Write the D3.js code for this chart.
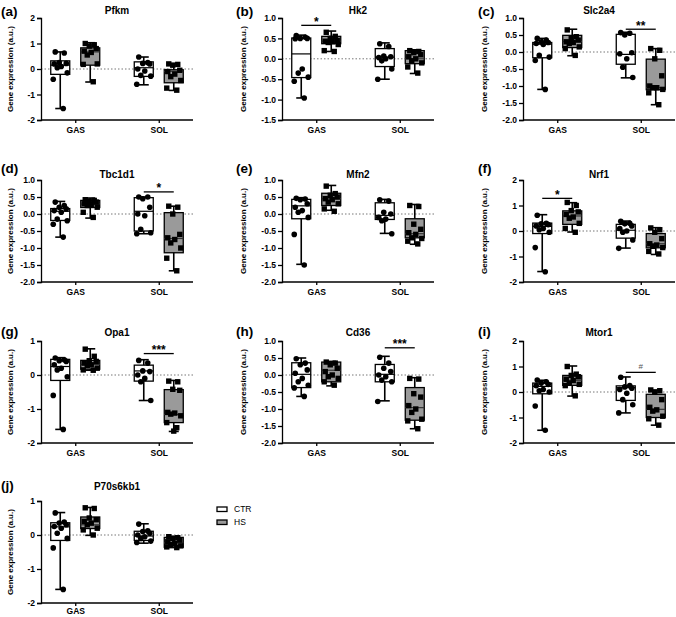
<!DOCTYPE html>
<html>
<head>
<meta charset="utf-8">
<script src="https://cdn.jsdelivr.net/npm/d3@7"></script>
<style>
  body { margin: 0; background: #fff; }
  svg { display: block; font-family: "Liberation Sans", Arial, sans-serif; }
</style>
</head>
<body>
<div id="chart"></div>
<script>
// ---- data ----
const genes = ["Pfkm", "Hk2", "Slc2a4", "Tbc1d1", "Mfn2", "Nrf1", "Opa1", "Cd36", "Mtor1", "P70s6kb1"];
const letters = ["(a)", "(b)", "(c)", "(d)", "(e)", "(f)", "(g)", "(h)", "(i)", "(j)"];
const muscles = ["GAS", "SOL"];
const groups = ["CTR", "HS"];
const yDomains = [[-2, 2], [-1.5, 1], [-2, 1], [-2, 1], [-2, 1], [-2, 2], [-2, 1], [-2, 1], [-2, 2], [-2, 1]];
const yStep = [1, 0.5, 0.5, 0.5, 0.5, 1, 1, 0.5, 1, 1];

// individual values: [GAS CTR, GAS HS, SOL CTR, SOL HS]
const pfkmPts = [
  [0.67, 0.63, 0.25, 0.22, 0.2, 0.1, 0.05, -0.15, -0.4, -1.55],
  [1.0, 0.95, 0.9, 0.8, 0.7, 0.65, 0.55, 0.2, 0.18, -0.5],
  [0.47, 0.25, 0.22, 0.2, 0.0, -0.08, -0.25, -0.28, -0.6],
  [0.2, 0.18, 0.15, -0.05, -0.1, -0.2, -0.3, -0.45, -0.75, -0.83]
];
const hk2Pts = [
  [0.57, 0.53, 0.5, 0.5, 0.49, -0.25, -0.35, -0.45, -0.55, -0.96],
  [0.65, 0.55, 0.5, 0.45, 0.43, 0.42, 0.4, 0.35, 0.2, 0.18],
  [0.37, 0.3, 0.07, 0.05, 0.03, 0.0, -0.05, -0.25, -0.5],
  [0.2, 0.18, 0.15, 0.1, 0.05, 0.0, -0.05, -0.1, -0.2, -0.35]
];
const slc2a4Pts = [
  [0.4, 0.35, 0.3, 0.28, 0.25, 0.22, -0.1, -0.15, -0.25, -1.1],
  [0.65, 0.45, 0.4, 0.35, 0.3, 0.28, 0.25, 0.15, 0.1, -0.1],
  [0.57, 0.55, 0.5, -0.02, -0.05, -0.2, -0.45, -0.75],
  [0.1, 0.05, -0.2, -0.7, -1.0, -1.05, -1.05, -1.1, -1.2, -1.55]
];
const tbc1d1Pts = [
  [0.35, 0.25, 0.2, 0.15, 0.1, 0.05, -0.15, -0.2, -0.3, -0.68],
  [0.42, 0.4, 0.38, 0.35, 0.3, 0.28, 0.25, 0.2, 0.05, -0.1],
  [0.5, 0.5, 0.45, 0.2, 0.0, -0.05, -0.45, -0.55, -0.58],
  [0.23, 0.2, 0.0, -0.6, -0.7, -0.75, -0.85, -1.0, -1.3, -1.67]
];
const mfn2Pts = [
  [0.46, 0.44, 0.42, 0.3, 0.2, 0.1, 0.05, -0.1, -0.6, -1.5],
  [0.82, 0.6, 0.55, 0.5, 0.45, 0.42, 0.35, 0.3, 0.15, 0.08],
  [0.42, 0.38, 0.05, 0.0, -0.1, -0.15, -0.2, -0.58],
  [0.25, 0.22, -0.3, -0.45, -0.55, -0.6, -0.7, -0.72, -0.8, -0.88]
];
const nrf1Pts = [
  [0.62, 0.3, 0.28, 0.25, 0.2, 0.1, 0.05, -0.05, -0.65, -1.6],
  [1.12, 1.0, 0.8, 0.75, 0.65, 0.55, 0.5, 0.3, 0.1, -0.05],
  [0.38, 0.3, 0.28, 0.2, 0.1, 0.0, -0.05, -0.35, -0.68],
  [0.12, 0.05, -0.05, -0.3, -0.5, -0.55, -0.6, -0.65, -0.8, -0.9]
];
const opa1Pts = [
  [0.5, 0.45, 0.42, 0.4, 0.3, 0.2, 0.15, -0.05, -0.6, -1.6],
  [0.76, 0.55, 0.42, 0.4, 0.35, 0.3, 0.28, 0.2, 0.15, 0.14],
  [0.43, 0.35, 0.12, 0.1, 0.0, -0.1, -0.2, -0.75],
  [-0.18, -0.2, -0.42, -0.45, -1.1, -1.12, -1.15, -1.2, -1.4, -1.55, -1.65]
];
const cd36Pts = [
  [0.48, 0.35, 0.3, 0.15, 0.05, -0.1, -0.2, -0.3, -0.38, -0.63],
  [0.38, 0.35, 0.3, 0.2, 0.1, 0.0, -0.05, -0.1, -0.2, -0.3],
  [0.52, 0.35, 0.2, 0.1, 0.0, -0.05, -0.15, -0.2, -0.78],
  [-0.1, -0.12, -0.55, -0.65, -0.9, -1.0, -1.1, -1.3, -1.35, -1.58]
];
const mtor1Pts = [
  [0.47, 0.4, 0.35, 0.3, 0.25, 0.1, 0.05, 0.0, -0.55, -1.5],
  [1.0, 0.7, 0.65, 0.6, 0.5, 0.45, 0.35, 0.3, 0.25, -0.15],
  [0.58, 0.25, 0.2, 0.15, 0.1, -0.05, -0.3, -0.5, -0.82],
  [0.08, 0.05, 0.0, -0.3, -0.6, -0.7, -0.75, -0.95, -1.05, -1.3]
];
const p70s6kb1Pts = [
  [0.65, 0.38, 0.35, 0.3, 0.25, 0.2, 0.05, -0.1, -0.38, -1.6],
  [0.8, 0.78, 0.5, 0.45, 0.4, 0.35, 0.3, 0.2, 0.15, 0.0],
  [0.32, 0.12, 0.1, 0.05, 0.0, -0.05, -0.1, -0.18, -0.22],
  [-0.05, -0.08, -0.1, -0.15, -0.2, -0.25, -0.28, -0.32, -0.35, -0.37]
];

// box summaries [min, q1, median, q3, max], same group order
const pfkmBox = [[-1.55, -0.21, 0.15, 0.32, 0.67], [-0.51, 0.15, 0.67, 0.83, 1.03], [-0.62, -0.29, 0.05, 0.28, 0.47], [-0.84, -0.54, -0.09, -0.03, 0.21]];
const hk2Box = [[-0.96, -0.46, 0.12, 0.51, 0.58], [0.18, 0.37, 0.43, 0.55, 0.68], [-0.5, -0.19, 0.04, 0.25, 0.39], [-0.36, -0.12, 0.0, 0.2, 0.22]];
const slc2a4Box = [[-1.1, -0.17, 0.23, 0.28, 0.4], [-0.11, 0.13, 0.31, 0.49, 0.67], [-0.76, -0.36, -0.07, 0.52, 0.58], [-1.55, -1.11, -1.05, -0.21, 0.1]];
const tbc1d1Box = [[-0.68, -0.19, 0.08, 0.16, 0.37], [-0.12, 0.19, 0.29, 0.4, 0.47], [-0.58, -0.5, 0.08, 0.48, 0.5], [-1.67, -1.14, -0.72, 0.04, 0.23]];
const mfn2Box = [[-1.48, -0.14, 0.24, 0.43, 0.48], [0.11, 0.25, 0.45, 0.61, 0.84], [-0.57, -0.16, -0.04, 0.33, 0.43], [-0.89, -0.7, -0.58, -0.14, 0.28]];
const nrf1Box = [[-1.59, -0.1, 0.18, 0.31, 0.64], [-0.04, 0.26, 0.59, 0.79, 1.11], [-0.67, -0.28, 0.03, 0.26, 0.39], [-0.92, -0.66, -0.5, -0.1, 0.13]];
const opa1Box = [[-1.6, -0.16, 0.25, 0.46, 0.51], [0.14, 0.17, 0.31, 0.43, 0.77], [-0.75, -0.18, 0.12, 0.29, 0.45], [-1.66, -1.4, -1.16, -0.43, -0.16]];
const cd36Box = [[-0.63, -0.37, 0.02, 0.36, 0.5], [-0.32, -0.2, 0.14, 0.38, 0.4], [-0.76, -0.2, 0.02, 0.31, 0.55], [-1.58, -1.33, -0.96, -0.37, -0.08]];
const mtor1Box = [[-1.5, -0.07, 0.22, 0.35, 0.46], [-0.16, 0.26, 0.46, 0.65, 1.02], [-0.82, -0.33, 0.17, 0.24, 0.59], [-1.3, -1.0, -0.68, -0.09, 0.07]];
const p70s6kb1Box = [[-1.6, -0.16, 0.24, 0.36, 0.66], [-0.01, 0.19, 0.3, 0.53, 0.81], [-0.24, -0.16, -0.03, 0.11, 0.33], [-0.37, -0.36, -0.23, -0.07, -0.04]];

// significance: muscle, bar height (data units), label
const sigMuscle = [null, "GAS", "SOL", "SOL", null, "GAS", "SOL", "SOL", "SOL", null];
const sigY = [null, 0.82, 0.67, 0.65, null, 1.28, 0.63, 0.8, 0.77, null];
const sigText = [null, "*", "**", "*", null, "*", "***", "***", "#", null];

const allPts = [pfkmPts, hk2Pts, slc2a4Pts, tbc1d1Pts, mfn2Pts, nrf1Pts, opa1Pts, cd36Pts, mtor1Pts, p70s6kb1Pts];
const allBox = [pfkmBox, hk2Box, slc2a4Box, tbc1d1Box, mfn2Box, nrf1Box, opa1Box, cd36Box, mtor1Box, p70s6kb1Box];

// ---- layout ----
const width = 676, height = 617;
const colX = [41, 282, 523];
const letterX = [1, 236, 478];
const rowTop = [18, 180, 341, 501];
const titleY = [11, 175, 333, 487];
const letterY = [12, 169, 332, 486];
const xLabPad = [4, 4, 4, 2];
const plotW = 152, plotH = 102;
const groupOff = { CTR: -15, HS: 15 };
const boxW = 19;
const jitter = [-5, 4, -1, 6, -6, 1, -3, 7, -7, 3, 0];
const hsFill = "#9a9a9a";
const font = "Liberation Sans, Arial, sans-serif";

const svg = d3.select("#chart").append("svg")
  .attr("width", width)
  .attr("height", height);

genes.forEach((gene, i) => {
  const row = Math.floor(i / 3), col = i % 3;
  const x0 = colX[col], y0 = rowTop[row];
  const step = yStep[i];
  const dom = yDomains[i];

  const x = d3.scalePoint().domain(muscles).range([0, plotW]).padding(0.41);
  const y = d3.scaleLinear().domain(dom).range([plotH, 0]);
  const fmt = v => step < 1 ? v.toFixed(1) : String(v);

  const g = svg.append("g").attr("transform", `translate(${x0},${y0})`);

  // panel letter and title
  svg.append("text")
    .attr("x", letterX[col]).attr("y", letterY[row])
    .attr("font-size", 13.5).attr("font-weight", "bold")
    .attr("dominant-baseline", "middle")
    .text(letters[i]);
  svg.append("text")
    .attr("x", x0 + plotW / 2).attr("y", titleY[row])
    .attr("text-anchor", "middle").attr("dominant-baseline", "middle")
    .attr("font-size", 10).attr("font-weight", "bold")
    .text(gene);

  // zero line
  g.append("line")
    .attr("x1", 0).attr("x2", plotW)
    .attr("y1", y(0)).attr("y2", y(0))
    .attr("stroke", "#777").attr("stroke-width", 1)
    .attr("stroke-dasharray", "1.5,2");

  // y axis
  const yAxis = d3.axisLeft(y)
    .tickValues(d3.range(dom[0], dom[1] + step / 2, step))
    .tickFormat(fmt)
    .tickSize(4).tickPadding(2);
  const ya = g.append("g").call(yAxis);
  ya.select(".domain").attr("stroke-width", 1.3);
  ya.selectAll(".tick line").attr("stroke-width", 1.3);
  ya.selectAll("text").attr("font-size", 8.5).attr("font-weight", "bold")
    .attr("font-family", font);

  // x axis
  const xAxis = d3.axisBottom(x).tickSize(3).tickPadding(xLabPad[row]);
  const xa = g.append("g").attr("transform", `translate(0,${plotH})`).call(xAxis);
  xa.select(".domain").attr("stroke-width", 1.3).attr("d", `M0,0H${plotW}`);
  xa.selectAll(".tick line").attr("stroke-width", 1.3);
  xa.selectAll("text").attr("font-size", 8.5).attr("font-weight", "bold")
    .attr("font-family", font);

  // y title
  g.append("text")
    .attr("transform", `translate(${col === 0 ? -28 : -36},${plotH / 2}) rotate(-90)`)
    .attr("text-anchor", "middle")
    .attr("font-size", 8).attr("font-weight", "bold")
    .text("Gene expression (a.u.)");

  // boxes
  const sets = [];
  muscles.forEach((m, mi) => groups.forEach((grp, gi) => {
    sets.push({ m, grp, box: allBox[i][mi * 2 + gi], pts: allPts[i][mi * 2 + gi] });
  }));

  sets.forEach(s => {
    const cx = x(s.m) + groupOff[s.grp];
    const [mn, q1, md, q3, mx] = s.box;
    const bg = g.append("g");
    bg.append("line").attr("x1", cx).attr("x2", cx).attr("y1", y(mx)).attr("y2", y(mn))
      .attr("stroke", "#000").attr("stroke-width", 1.6);
    [mn, mx].forEach(v => bg.append("line")
      .attr("x1", cx - 5).attr("x2", cx + 5).attr("y1", y(v)).attr("y2", y(v))
      .attr("stroke", "#000").attr("stroke-width", 1.6));
    bg.append("rect")
      .attr("x", cx - boxW / 2).attr("width", boxW)
      .attr("y", y(q3)).attr("height", Math.max(0.5, y(q1) - y(q3)))
      .attr("fill", s.grp === "CTR" ? "#fff" : hsFill)
      .attr("stroke", "#000").attr("stroke-width", 1.3);
    bg.append("line").attr("x1", cx - boxW / 2).attr("x2", cx + boxW / 2)
      .attr("y1", y(md)).attr("y2", y(md))
      .attr("stroke", s.grp === "CTR" ? "#000" : "#333").attr("stroke-width", 1.2);

    // points
    if (s.grp === "CTR") {
      bg.selectAll("circle").data(s.pts).join("circle")
        .attr("cx", (d, k) => cx + jitter[k % jitter.length])
        .attr("cy", d => y(d))
        .attr("r", 2.8)
        .attr("fill", "#000");
    } else {
      bg.selectAll("rect.pt").data(s.pts).join("rect")
        .attr("class", "pt")
        .attr("x", (d, k) => cx + jitter[k % jitter.length] - 2.7)
        .attr("y", d => y(d) - 2.7)
        .attr("width", 5.4).attr("height", 5.4)
        .attr("fill", "#000");
    }
  });

  // significance bar
  if (sigMuscle[i]) {
    const m = sigMuscle[i];
    const yy = y(sigY[i]);
    const hash = sigText[i] === "#";
    g.append("line")
      .attr("x1", x(m) + groupOff.CTR).attr("x2", x(m) + groupOff.HS)
      .attr("y1", yy).attr("y2", yy)
      .attr("stroke", "#000").attr("stroke-width", 1.3);
    g.append("text")
      .attr("x", x(m)).attr("y", hash ? yy - 3 : yy + 0.5)
      .attr("text-anchor", "middle")
      .attr("font-size", hash ? 8 : 12)
      .attr("font-weight", hash ? "normal" : "bold")
      .attr("fill", hash ? "#555" : "#000")
      .text(sigText[i]);
  }
});

// legend
const legend = svg.append("g").attr("transform", "translate(217,506)");
groups.forEach((grp, k) => {
  legend.append("rect")
    .attr("x", 0).attr("y", k * 13 + 1).attr("width", 10).attr("height", 4.5)
    .attr("fill", grp === "CTR" ? "#fff" : hsFill)
    .attr("stroke", "#000").attr("stroke-width", 1.3);
  legend.append("text")
    .attr("x", 17).attr("y", k * 13 + 3.5)
    .attr("dominant-baseline", "middle")
    .attr("font-size", 8.5)
    .text(grp);
});
</script>
</body>
</html>
